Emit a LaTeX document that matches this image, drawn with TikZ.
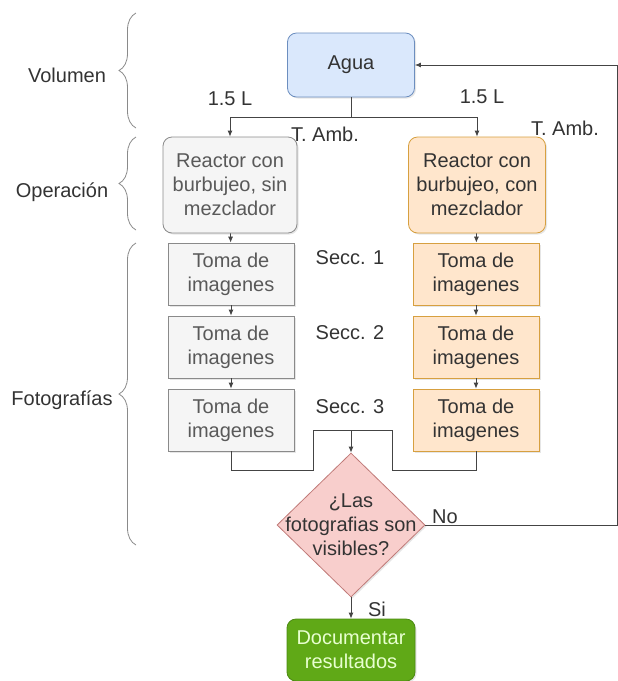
\documentclass[tikz,border=0pt]{standalone}
\usepackage{fontspec}
\setmainfont{Liberation Sans}
\usepackage{tikz}
\usetikzlibrary{calc}
\usetikzlibrary{shapes.geometric}
\usetikzlibrary{arrows.meta}
\usetikzlibrary{decorations.pathreplacing}
\usetikzlibrary{shadows}

\definecolor{aguafill}{HTML}{DAE8FC}
\definecolor{agualine}{HTML}{6C8EBF}
\definecolor{grisfill}{HTML}{F5F5F5}
\definecolor{grisline}{HTML}{8A8A8A}
\definecolor{naranjafill}{HTML}{FFE6CC}
\definecolor{naranjaline}{HTML}{D7A040}
\definecolor{rojofill}{HTML}{F8CECC}
\definecolor{rojoline}{HTML}{C07A78}
\definecolor{verdefill}{HTML}{60A917}
\definecolor{verdeline}{HTML}{4C8A12}
\definecolor{verdetext}{HTML}{E8FFD0}
\definecolor{linea}{HTML}{444444}

\tikzset{
    caja/.style={draw, line width=0.8pt, align=center, inner sep=0pt,
        drop shadow={opacity=0.2, shadow xshift=1.5pt, shadow yshift=-1.5pt}},
    redonda/.style={caja, rounded corners=9pt},
    flujo/.style={draw=linea, line width=0.8pt, -{Latex[length=6pt,width=5pt]}},
    linea/.style={draw=linea, line width=0.8pt},
    llave/.style={draw=grisline, line width=0.8pt, decorate,
        decoration={brace, amplitude=17pt}},
}

\begin{document}
\begin{tikzpicture}[x=1pt, y=-1pt, font=\fontsize{20}{24}\selectfont, text=black!80]

    \useasboundingbox (0,0) rectangle (618,681);

    \node (agua) at (351,65) [redonda, fill=aguafill, draw=agualine,
        minimum width=127, minimum height=64] {Agua};

    \node (reacA) at (230,185) [redonda, fill=grisfill, draw=grisline, text=black!65,
        minimum width=134, minimum height=96] {Reactor con\\burbujeo, sin\\mezclador};
    \node (reacB) at (477,185) [redonda, fill=naranjafill, draw=naranjaline,
        minimum width=137, minimum height=96] {Reactor con\\burbujeo, con\\mezclador};

    \node (tomaA1) at (231,274) [caja, fill=grisfill, draw=grisline, text=black!65,
        minimum width=126, minimum height=62] {Toma de\\imagenes};
    \node (tomaA2) at (231,347) [caja, fill=grisfill, draw=grisline, text=black!65,
        minimum width=126, minimum height=62] {Toma de\\imagenes};
    \node (tomaA3) at (231,420) [caja, fill=grisfill, draw=grisline, text=black!65,
        minimum width=126, minimum height=62] {Toma de\\imagenes};

    \node (tomaB1) at (476,274) [caja, fill=naranjafill, draw=naranjaline,
        minimum width=126, minimum height=62] {Toma de\\imagenes};
    \node (tomaB2) at (476,347) [caja, fill=naranjafill, draw=naranjaline,
        minimum width=126, minimum height=62] {Toma de\\imagenes};
    \node (tomaB3) at (476,420) [caja, fill=naranjafill, draw=naranjaline,
        minimum width=126, minimum height=62] {Toma de\\imagenes};

    \node (dec) at (351,525) [caja, diamond, fill=rojofill, draw=rojoline,
        minimum width=148, minimum height=144,
        label={[align=center, text=black!80]center:{¿Las\\fotografias son\\visibles?}}] {};

    \node (doc) at (351,650) [redonda, fill=verdefill, draw=verdeline, text=verdetext,
        minimum width=128, minimum height=62] {Documentar\\resultados};

    % etiquetas
    \node (vol1) at (230,99) {1.5 L};
    \node (vol2) at (482,97) {1.5 L};
    \node (temp1) at (325,134) {T. Amb.};
    \node (temp2) at (565,128) {T. Amb.};
    \node (secc1) at (350,258) {Secc. 1};
    \node (secc2) at (350,333) {Secc. 2};
    \node (secc3) at (350,407) {Secc. 3};
    \node (no) at (445,517) {No};
    \node (si) at (377,609) {Si};

    \node (volumen) at (67,75) {Volumen};
    \node (operacion) at (62,192) {Operación};
    \node (fotos) at (62,400) {Fotografías};

    \draw [llave] (136,128) -- (136,13);
    \draw [llave] (136,230) -- (136,137);
    \draw [llave] (136,545) -- (136,243);

    % conexiones
    \coordinate (split) at (351,117);
    \draw [linea] (agua.south) -- (split);
    \draw [flujo] (split) -| (reacA.north);
    \draw [flujo] (split) -| (reacB.north);

    \draw [flujo] (reacA) -- (tomaA1);
    \draw [flujo] (tomaA1) -- (tomaA2);
    \draw [flujo] (tomaA2) -- (tomaA3);
    \draw [flujo] (reacB) -- (tomaB1);
    \draw [flujo] (tomaB1) -- (tomaB2);
    \draw [flujo] (tomaB2) -- (tomaB3);

    \coordinate (lowL) at (313,470);
    \coordinate (topL) at (313,430);
    \coordinate (topR) at (392,430);
    \coordinate (lowR) at (392,470);
    \coordinate (join) at (351,430);
    \draw [linea] (tomaA3.south) |- (lowL) -- (topL) -- (topR) -- (lowR) -| (tomaB3.south);
    \draw [flujo] (join) -- (dec.north);

    \coordinate (back) at (617,525);
    \draw [flujo] (dec.east) -- (back) |- (agua.east);
    \draw [flujo] (dec.south) -- (doc.north);

\end{tikzpicture}
\end{document}
